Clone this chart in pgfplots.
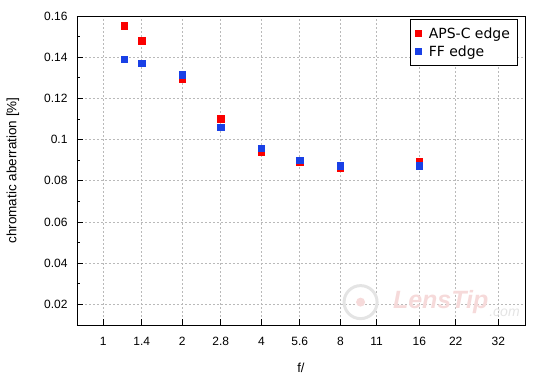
\documentclass[border=0pt]{standalone}
\usepackage{pgfplots}
\pgfplotsset{compat=1.18}
\usepackage{fontspec}
\setmainfont{Liberation Sans}
\newfontfamily\legfont{DejaVu Sans}
\definecolor{apsred}{RGB}{250,0,0}
\definecolor{ffblue}{RGB}{25,64,230}
\definecolor{wmpink}{RGB}{246,218,218}
\definecolor{wmgray}{RGB}{228,228,228}
\begin{document}
\begin{tikzpicture}
\useasboundingbox (-77pt,-55pt) rectangle (473pt,325pt);
\begin{axis}[
  at={(0,0)}, anchor=south west,
  scale only axis, width=448pt, height=309pt,
  xmode=log, log basis x=2,
  xmin=0.794, xmax=40.4, ymin=0.01, ymax=0.16,
  xtick={1,1.4,2,2.8,4,5.6,8,11,16,22,32},
  xticklabels={1,1.4,2,2.8,4,5.6,8,11,16,22,32},
  ytick={0.02,0.04,0.06,0.08,0.1,0.12,0.14,0.16},
  yticklabels={0.02,0.04,0.06,0.08,0.1,0.12,0.14,0.16},
  minor ytick={0.01,0.03,0.05,0.07,0.09,0.11,0.13,0.15},
  tick align=inside, xtick pos=bottom, ytick pos=left,
  major tick length=6pt, minor tick length=3.5pt,
  grid=major,
  major grid style={gray!55, dash pattern=on 2pt off 2pt, line width=0.6pt},
  axis line style={line width=0.8pt},
  tick style={black, line width=0.8pt},
  ticklabel style={font=\fontsize{12}{14}\selectfont},
  /pgf/number format/assume math mode=true,
  xticklabel style={yshift=-9pt},
  yticklabel style={xshift=-6pt},
  xlabel={f/}, ylabel={chromatic aberration [\%]},
  every axis x label/.style={at={(rel axis cs:0.5,0)}, yshift=-43pt, anchor=center, font=\fontsize{13}{15}\selectfont},
  every axis y label/.style={at={(rel axis cs:0,0.5)}, xshift=-64pt, rotate=90, anchor=center, font=\fontsize{13.5}{15}\selectfont},
  legend style={at={(rel axis cs:0.983,0.989)}, anchor=north east,
    draw=black, line width=0.8pt, font=\legfont\fontsize{14}{16}\selectfont,
    inner xsep=4pt, inner ysep=6pt, row sep=1.5pt, cells={anchor=west},
    nodes={inner xsep=3pt}},
  legend image code/.code={\node[draw=none, fill=none, inner sep=0pt, minimum width=11pt, minimum height=1pt, anchor=west] at (0pt,0pt) {}; \draw[#1, mark size=3pt] plot coordinates {(4pt,0pt)};},
]
\node[circle, draw=wmgray, line width=3pt, minimum size=33pt, inner sep=0pt] at (rel axis cs:0.633,0.074) {};
\node[circle, fill=wmpink, minimum size=9pt, inner sep=0pt] at (rel axis cs:0.633,0.074) {};
\node[anchor=west, inner sep=0pt, text=wmpink, font=\bfseries\itshape\fontsize{25}{26}\selectfont] at (rel axis cs:0.705,0.074) {LensTip};
\node[anchor=south west, inner sep=0pt, text=wmgray, font=\itshape\fontsize{14}{15}\selectfont] at (rel axis cs:0.92,0.025) {.com};
\addplot[only marks, mark=square*, mark size=3.3pt, color=apsred, mark options={draw=none}] coordinates {
  (1.2,0.1553) (1.4,0.148) (2,0.1295) (2.8,0.110) (4,0.094) (5.6,0.089) (8,0.0865) (16,0.0895)
};
\addlegendentry{APS-C edge}
\addplot[only marks, mark=square*, mark size=3.3pt, color=ffblue, mark options={draw=none}] coordinates {
  (1.2,0.139) (1.4,0.137) (2,0.1315) (2.8,0.106) (4,0.0958) (5.6,0.090) (8,0.0872) (16,0.0872)
};
\addlegendentry{FF edge}
\end{axis}
\end{tikzpicture}
\end{document}
